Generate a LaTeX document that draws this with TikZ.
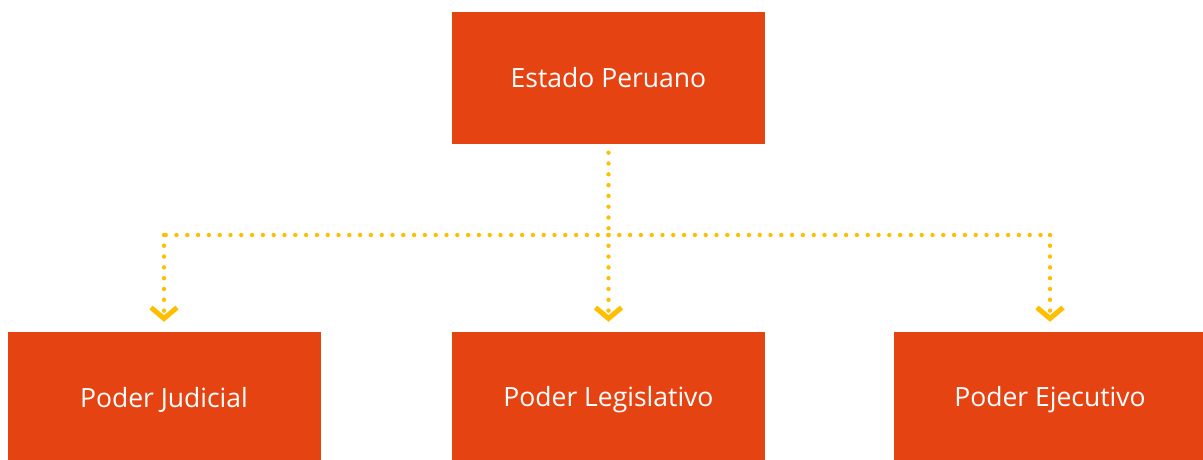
\documentclass[tikz,border=0pt]{standalone}
\usepackage{fontspec}
\setmainfont{Open Sans}
\usetikzlibrary{arrows.meta}
\definecolor{boxred}{HTML}{E64312}
\definecolor{dotyellow}{HTML}{FFBF00}
\begin{document}
\begin{tikzpicture}[x=1pt,y=-1pt,
  box/.style={fill=boxred,text=white,minimum width=313pt,minimum height=131pt,inner sep=0pt,font=\fontsize{26.5}{30}\selectfont},
  lowbox/.style={box,minimum height=136pt},
  dotline/.style={draw=dotyellow,line width=4.4pt,line cap=round,dash pattern=on 0pt off 10.8pt},
  chev/.style={-{Straight Barb[length=11pt,width=26pt,line width=5pt,line cap=butt]},shorten >=10pt}
]
\useasboundingbox (0,0) rectangle (1203,460);
\node[box] (top) at (608.5,78) {Estado Peruano};
\node[lowbox] (jud) at (164,400) {Poder Judicial};
\node[lowbox] (leg) at (608.5,400) {Poder Legislativo};
\node[lowbox] (eje) at (1050,400) {Poder Ejecutivo};
\coordinate (hub) at (608.5,235);
\coordinate (hl) at (164,235);
\coordinate (hr) at (1050,235);
\draw[dotline,shorten <=9pt] (top.south) -- (hub);
\draw[dotline] (hub) -- (hl);
\draw[dotline] (hub) -- (hr);
\draw[dotline,chev] (hl) -- (jud.north);
\draw[dotline,chev] (hub) -- (leg.north);
\draw[dotline,chev] (hr) -- (eje.north);
\end{tikzpicture}
\end{document}
